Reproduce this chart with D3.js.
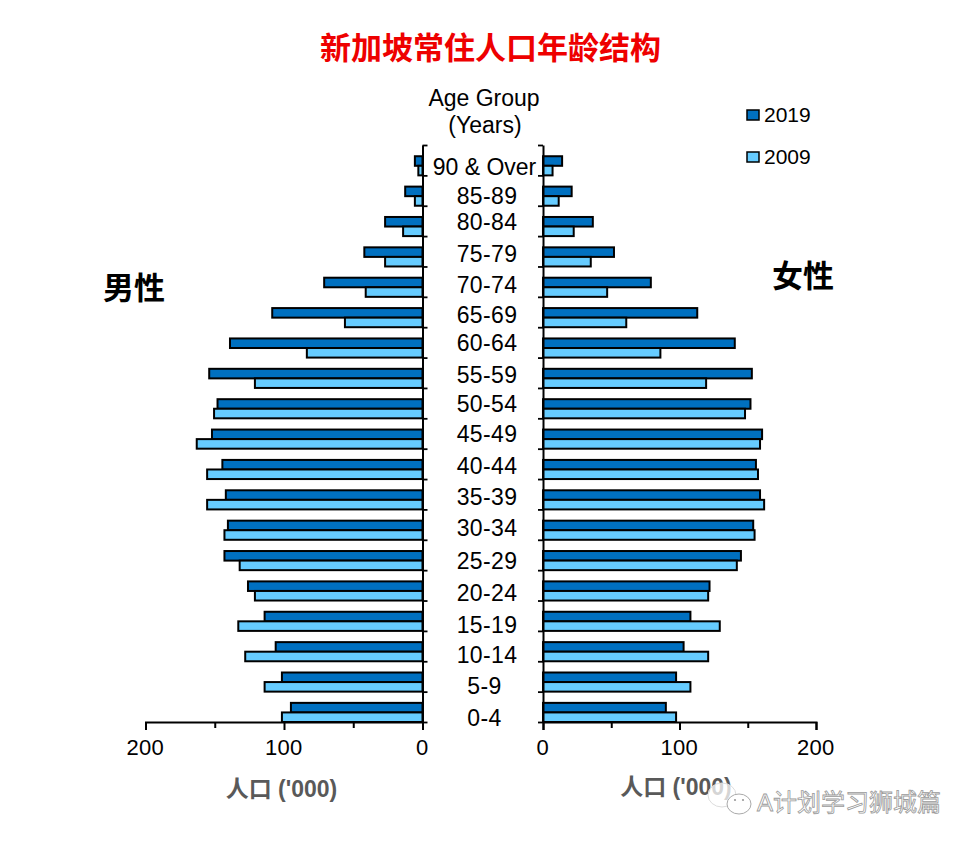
<!DOCTYPE html>
<html><head><meta charset="utf-8">
<script src="https://cdn.jsdelivr.net/npm/d3@7/dist/d3.min.js"></script>
<style>html,body{margin:0;background:#fff}svg{display:block}
text{font-family:"Liberation Sans",Arial,"Noto Sans CJK SC",sans-serif}</style></head><body>
<svg id="c" width="972" height="844"></svg>
<script>
const ageGroups=["90 & Over","85-89","80-84","75-79","70-74","65-69","60-64","55-59","50-54","45-49","40-44","35-39","30-34","25-29","20-24","15-19","10-14","5-9","0-4"];
const male2019=[5.5,12.5,27,42,71,108.5,139,154,148,152,144.5,142,140.5,143,126,114,106,101.5,95];
const male2009=[3,5.5,14,27,41,56,83.5,121,150.5,163,155.5,155.5,143,132,121,133,128,114,101.5];
const female2019=[14,21,36.5,52,79,113,140.5,153,152,160.5,156,159,154,145,122,108,103,97.5,90];
const female2009=[7,11.5,22.5,35,47,61,86,119.5,148,159,157.5,162,155,142,121,129.5,121,108,97.5];
const years=["2019","2009"];
const colors={"2019":"#0070C0","2009":"#66CCFF"};
const xTicks=[0,50,100,150,200];
// hand-placed text boxes of the age labels in the original
const labelCentreY=[167,196,222,254,285,315,343,375,404,434,466,497,528,561,593,625,655,686,718];

const svg=d3.select("#c");
const top_=145,bottom=722;
const xL=d3.scaleLinear().domain([0,200]).range([422.5,145.5]);
const xR=d3.scaleLinear().domain([0,200]).range([543,816]);
const y=d3.scaleBand().domain(ageGroups).range([top_,bottom]);
const yIn=d3.scaleBand().domain(years).range([y.bandwidth()*0.37,y.bandwidth()]);
const yEdge=d3.scaleLinear().domain([0,ageGroups.length]).range([top_,bottom]);

function side(x,vals19,vals09){
  [["2019",vals19],["2009",vals09]].forEach(([yr,vals])=>{
    svg.append("g").selectAll("rect").data(vals).join("rect")
      .attr("x",d=>Math.min(x(0),x(d)))
      .attr("y",(d,i)=>y(ageGroups[i])+yIn(yr))
      .attr("width",d=>Math.abs(x(d)-x(0)))
      .attr("height",yIn.bandwidth())
      .attr("fill",colors[yr]).attr("stroke","#000").attr("stroke-width",2);
  });
}
side(xL,male2019,male2009);
side(xR,female2019,female2009);

function xAxis(x){
  const g=svg.append("g").attr("transform",`translate(0,${bottom})`)
    .call(d3.axisBottom(x).tickValues(xTicks).tickSize(8).tickFormat(d=>d%100===0?d:""));
  g.select(".domain").attr("stroke","#000").attr("stroke-width",2);
  g.selectAll(".tick line").attr("stroke","#000").attr("stroke-width",2)
    .attr("y2",d=>d%100===0?8:6);
  g.selectAll(".tick text").attr("fill","#000").attr("font-size",22)
    .attr("font-family","Liberation Sans").attr("letter-spacing",0.3).attr("x",-0.8).attr("y",14).attr("dy","0.85em");
}
xAxis(xL);xAxis(xR);

function yAxis(x0,left){
  const ax=(left?d3.axisRight:d3.axisLeft)(yEdge).tickValues(d3.range(ageGroups.length+1)).tickSize(5).tickSizeOuter(0).tickFormat("");
  const g=svg.append("g").attr("transform",`translate(${x0},0)`).call(ax);
  g.select(".domain").attr("stroke","#000").attr("stroke-width",2);
  g.selectAll(".tick line").attr("stroke","#000").attr("stroke-width",1.8);
}
yAxis(xL(0),true);yAxis(xR(0),false);

svg.append("g").selectAll("text").data(ageGroups).join("text")
  .attr("x",d=>d.length===5?487:484.5).attr("y",(d,i)=>labelCentreY[i]).attr("dy","0.36em")
  .attr("letter-spacing",d=>d.length===9?0:0.35)
  .attr("text-anchor","middle").attr("font-size",23).attr("fill","#000").text(d=>d);

function t(x,yy,s,size,opt={}){
  return svg.append("text").attr("x",x).attr("y",yy).attr("text-anchor",opt.a||"middle")
    .attr("font-size",size).attr("font-weight",opt.w||"normal").attr("fill",opt.f||"#000").text(s);
}
t(490.5,59,"新加坡常住人口年龄结构",31,{w:"bold",f:"#EE0000"});
t(484,106,"Age Group",23);
t(485,133,"(Years)",23);
t(134,299,"男性",31,{w:"bold"});
t(803,287,"女性",31,{w:"bold"});
t(281.5,797,"人口 ('000)",23,{w:"bold",f:"#595959"});
t(676,795,"人口 ('000)",23,{w:"bold",f:"#595959"});

years.forEach((yr,i)=>{
  const ly=[115,157][i];
  svg.append("rect").attr("x",747).attr("y",ly-5).attr("width",12).attr("height",10)
    .attr("fill",colors[yr]).attr("stroke","#000").attr("stroke-width",1.5);
  t(764,ly+7,yr,21,{a:"start"});
});

// watermark
const wm=svg.append("g");
wm.append("ellipse").attr("cx",722).attr("cy",795).attr("rx",14).attr("ry",12).attr("fill","#fff").attr("fill-opacity",0.75).attr("stroke","#ddd").attr("stroke-width",1);
wm.append("ellipse").attr("cx",739).attr("cy",804).attr("rx",12).attr("ry",10).attr("fill","#fff").attr("stroke","#aaa").attr("stroke-width",1);
[735,743].forEach(cx=>wm.append("circle").attr("cx",cx).attr("cy",800).attr("r",1.1).attr("fill","#999"));
t(849,811,"A计划学习狮城篇",24,{f:"#fff"}).attr("stroke","#9a9a9a").attr("stroke-width",0.8);
</script></body></html>
